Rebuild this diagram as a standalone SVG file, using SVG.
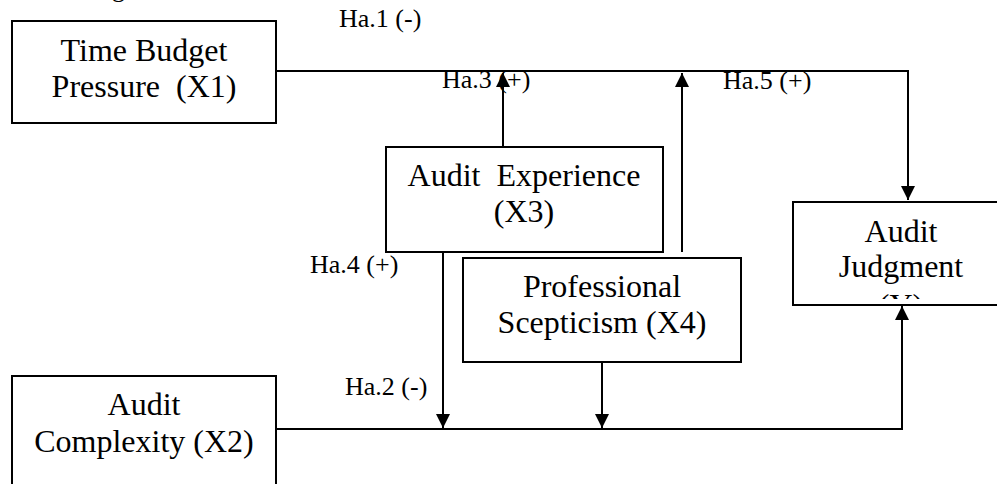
<svg xmlns="http://www.w3.org/2000/svg" width="997" height="484" viewBox="0 0 997 484">
<defs>
<style>
.box{fill:#fff;stroke:#000;stroke-width:2}
.t{font-family:'Liberation Serif','Times New Roman','DejaVu Serif',serif;font-size:32px;fill:#000;text-anchor:middle}
.lbl{font-family:'Liberation Serif','Times New Roman','DejaVu Serif',serif;font-size:26px;fill:#000}
.c{fill:none;stroke:#000;stroke-width:2}
</style>
<marker id="ah" markerUnits="userSpaceOnUse" markerWidth="14" markerHeight="15" refX="14" refY="7" orient="auto" viewBox="0 0 14 14">
<path d="M0,0 L14,7 L0,14 Z" fill="#000"/>
</marker>
<clipPath id="ajclip"><rect x="793" y="202" width="204" height="97"/></clipPath>
</defs>
<rect width="997" height="484" fill="#fff"/>
<text class="lbl" x="112" y="-3" font-family="Liberation Serif, serif">g</text>
<g id="connectors">
<path class="c" d="M276,71 H908 V200" marker-end="url(#ah)"/>
<path class="c" d="M276,429 H902 V306" marker-end="url(#ah)"/>
<path class="c" d="M503,147 V73" marker-end="url(#ah)"/>
<path class="c" d="M682,252 V73" marker-end="url(#ah)"/>
<path class="c" d="M443,252 V428" marker-end="url(#ah)"/>
<path class="c" d="M602,362 V428" marker-end="url(#ah)"/>
</g>
<g id="labels" font-family="Liberation Serif, serif">
<text class="lbl" x="339" y="27">Ha.1 (-)</text>
<text class="lbl" x="442" y="88">Ha.3 (+)</text>
<text class="lbl" x="723" y="89">Ha.5 (+)</text>
<text class="lbl" x="310" y="273">Ha.4 (+)</text>
<text class="lbl" x="345" y="395">Ha.2 (-)</text>
</g>
<g id="x1" font-family="Liberation Serif, serif">
<rect class="box" x="12" y="21" width="264" height="102"/>
<text class="t" x="144" y="61">Time Budget</text>
<text class="t" x="144" y="97" xml:space="preserve">Pressure  (X1)</text>
</g>
<g id="x2">
<rect class="box" x="12" y="376" width="264" height="120"/>
<text class="t" x="144" y="415">Audit</text>
<text class="t" x="144" y="452">Complexity (X2)</text>
</g>
<g id="x3">
<rect class="box" x="386" y="147" width="277" height="105"/>
<text class="t" x="524" y="186" xml:space="preserve">Audit  Experience</text>
<text class="t" x="524" y="222">(X3)</text>
</g>
<g id="x4">
<rect class="box" x="463" y="258" width="278" height="104"/>
<text class="t" x="602" y="297">Professional</text>
<text class="t" x="602" y="333">Scepticism (X4)</text>
</g>
<g id="y">
<rect class="box" x="793" y="202" width="210" height="103"/>
<text class="t" x="901" y="242">Audit</text>
<text class="t" x="901" y="277">Judgment</text>
<text class="t" x="901" y="316" clip-path="url(#ajclip)">(Y)</text>
</g>
</svg>
